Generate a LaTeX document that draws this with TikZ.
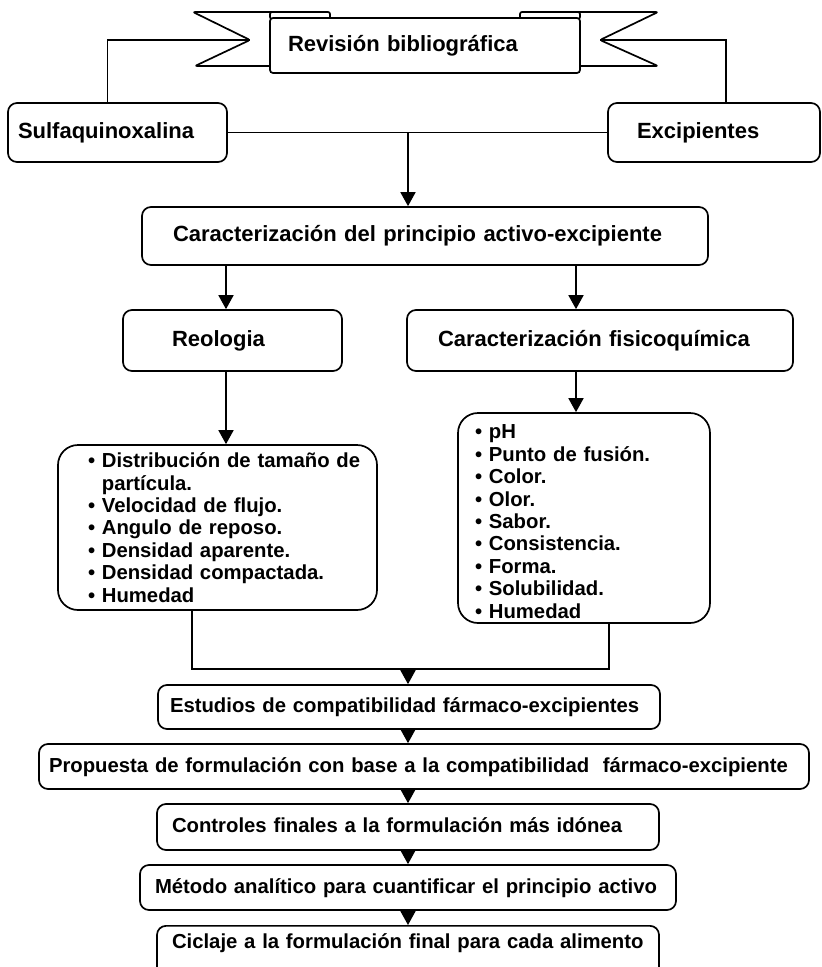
\documentclass[tikz,border=0pt]{standalone}
\usepackage{fontspec}
\setmainfont{Liberation Sans}
\usetikzlibrary{arrows.meta}

\begin{document}
\begin{tikzpicture}[x=1pt,y=-1pt,line width=1.7pt,
  caja/.style={draw,fill=white,rounded corners=9pt,align=left,inner ysep=0pt,
    text height=16pt,text depth=5pt,font=\fontsize{22}{24}\selectfont\bfseries},
  cajab/.style={caja,font=\fontsize{20.3}{22.4}\selectfont\bfseries},
  lista/.style={draw,rounded corners=20pt,align=left,inner sep=0pt,
    font=\fontsize{20.3}{22.4}\selectfont\bfseries},
  flecha/.style={-{Triangle[length=14pt,width=15pt]}},
  cinta/.style={draw,fill=white,rounded corners=2pt,line join=round}]
\useasboundingbox (0,0) rectangle (822,967);

% cinta de arriba
\draw[cinta] (328,12) -- (193,12) -- (250,40) -- (195,66) -- (272,66);
\draw[cinta] (522,12) -- (658,12) -- (600,40) -- (658,66) -- (578,66);
\draw[cinta] (270,19) rectangle (330,12);
\draw[cinta] (520,19) rectangle (580,12);
\node[caja,rounded corners=3pt,inner xsep=18pt,text width=274pt,minimum height=55pt] (rev) at (425,45.5) {Revisión bibliográfica};
\coordinate (nl) at (250,40);
\coordinate (nr) at (600,40);

\node[caja,inner xsep=10pt,text width=199pt,minimum height=59pt] (sulfa) at (117.5,132.5) {Sulfaquinoxalina};
\node[caja,inner xsep=29pt,text width=154pt,minimum height=59pt] (excip) at (714,132.5) {Excipientes};
\node[caja,inner xsep=31pt,text width=504pt,minimum height=58pt] (carac) at (425,236) {Caracterización del principio activo-excipiente};
\node[caja,inner xsep=49pt,text width=121pt,minimum height=61pt] (reo) at (232.5,340.5) {Reologia};
\node[caja,inner xsep=31pt,text width=324pt,minimum height=61pt] (fis) at (600,340.5) {Caracterización fisicoquímica};

% listas
\node[lista,text width=319pt,minimum height=165pt] (listL) at (217.5,527.5)
  {\hspace*{30pt}\raisebox{-3pt}[\height][\depth]{\begin{tabular}{@{}l@{\ }l@{}}
  \textbullet & Distribución de tamaño de\\
              & partícula.\\
  \textbullet & Velocidad de flujo.\\
  \textbullet & Angulo de reposo.\\
  \textbullet & Densidad aparente.\\
  \textbullet & Densidad compactada.\\
  \textbullet & Humedad
  \end{tabular}}};
\node[lista,text width=252pt,minimum height=210pt] (listR) at (584,518)
  {\hspace*{17pt}\raisebox{-6pt}[\height][\depth]{\begin{tabular}{@{}l@{\ }l@{}}
  \textbullet & pH\\
  \textbullet & Punto de fusión.\\
  \textbullet & Color.\\
  \textbullet & Olor.\\
  \textbullet & Sabor.\\
  \textbullet & Consistencia.\\
  \textbullet & Forma.\\
  \textbullet & Solubilidad.\\
  \textbullet & Humedad
  \end{tabular}}};

\node[cajab,inner xsep=12pt,text width=478pt,minimum height=44pt] (estud) at (409,707) {Estudios de compatibilidad fármaco-excipientes};
\node[cajab,inner xsep=10pt,text width=750pt,minimum height=45pt] (prop) at (424,766.5) {Propuesta de formulación con base a la compatibilidad\ \ fármaco-excipiente};
\node[cajab,inner xsep=15pt,text width=472pt,minimum height=46pt] (contr) at (408,827) {Controles finales a la formulación más idónea};
\node[cajab,inner xsep=15pt,text width=506pt,minimum height=45pt] (metod) at (408,887.5) {Método analítico para cuantificar el principio activo};
\node[cajab,anchor=north,inner xsep=15pt,inner ysep=7pt,text width=472pt,text depth=40pt] (cicl) at (408,925) {Ciclaje a la formulación final para cada alimento};

% columnas de las flechas
\coordinate (cm) at (408,0);
\coordinate (cl) at (226,0);
\coordinate (cr) at (576,0);
\coordinate (ml) at (192,0);
\coordinate (mr) at (609,0);
\coordinate (mrg) at (408,669);

\draw ([xshift=-10pt]sulfa.north) |- (nl);
\draw ([xshift=12pt]excip.north) |- (nr);
\draw (sulfa.east) -- (excip.west);
\draw[flecha] (sulfa.east -| cm) -- (carac.north -| cm);
\draw[flecha] (carac.south -| cl) -- (reo.north -| cl);
\draw[flecha] (carac.south -| cr) -- (fis.north -| cr);
\draw[flecha] (reo.south -| cl) -- (listL.north -| cl);
\draw[flecha] (fis.south -| cr) -- (listR.north -| cr);
\draw (listL.south -| ml) |- (mrg) -| (listR.south -| mr);
\draw[flecha] (mrg) -- (estud.north -| cm);
\draw[flecha] (estud.south -| cm) -- (prop.north -| cm);
\draw[flecha] (prop.south -| cm) -- (contr.north -| cm);
\draw[flecha] (contr.south -| cm) -- (metod.north -| cm);
\draw[flecha] (metod.south -| cm) -- (cicl.north -| cm);
\end{tikzpicture}
\end{document}
